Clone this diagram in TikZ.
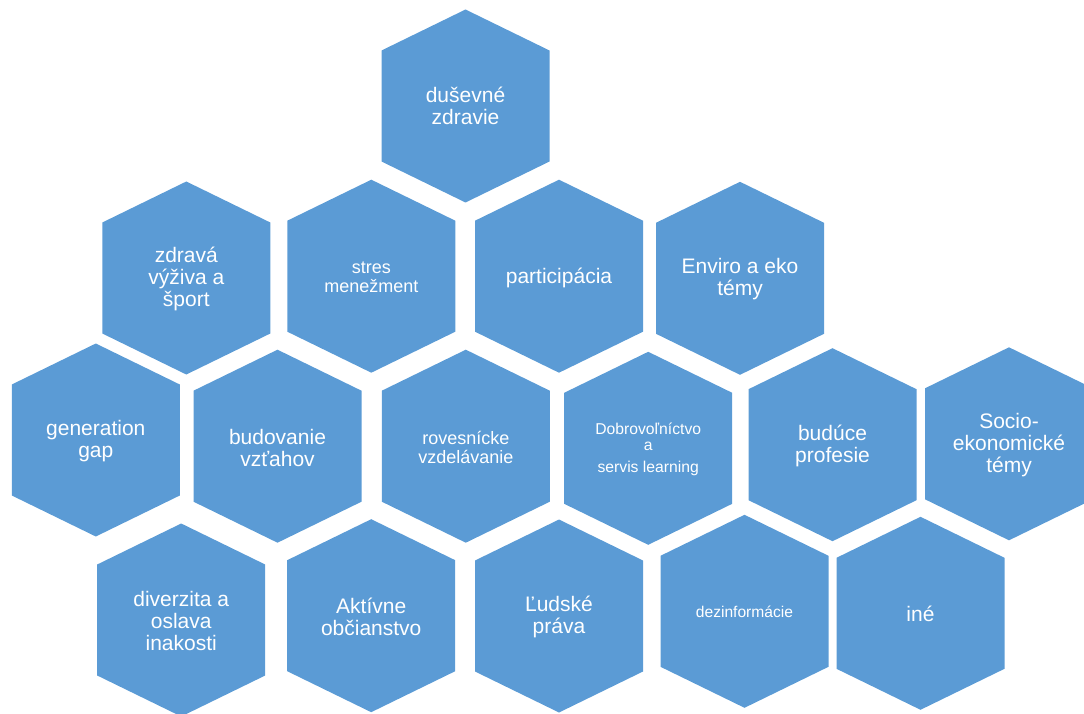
\documentclass[tikz,border=0pt]{standalone}
\usepackage{fontspec}
\setmainfont{Liberation Sans}
\usepackage{tikz}
\usetikzlibrary{positioning}
\definecolor{cellblue}{HTML}{5B9BD5}
\tikzset{
	hexcell/.pic={\fill[cellblue] (0,-96.5) -- (84,-55.5) -- (84,55.5) -- (0,96.5) -- (-84,55.5) -- (-84,-55.5) -- cycle;},
	lbl/.style={text=white, align=center, inner sep=0pt, font=\fontsize{21}{22}\selectfont},
	lblmid/.style={lbl, font=\fontsize{18}{19}\selectfont},
	lblsmall/.style={lbl, font=\fontsize{15.7}{16}\selectfont}
}

\begin{document}
\begin{tikzpicture}[x=1pt, y=-1pt]
			\path[use as bounding box, clip] (0,0) rectangle (1084,714);
			% top
			\pic at (465.5,106) {hexcell};
			\node[lbl] (dusevne) at (465.5,106) {duševné\\zdravie};
			% second row
			\pic at (186.3,278) {hexcell};
			\node[lbl] (zdrava) at (186.3,279) {zdravá\\výživa a\\šport};
			\pic at (371.3,276.2) {hexcell};
			\node[lblmid] (stres) at (371.3,277) {stres\\menežment};
			\pic at (559,276.2) {hexcell};
			\node[lbl] (participacia) at (559,278) {participácia};
			\pic at (740,278.3) {hexcell};
			\node[lbl] (enviro) at (740,279.5) {Enviro a eko\\témy};
			% third row
			\pic at (95.8,440) {hexcell};
			\node[lbl] (generation) at (95.8,441.5) {generation\\gap};
			\pic at (277.5,446.2) {hexcell};
			\node[lbl] (budovanie) at (277.5,447.5) {budovanie\\vzťahov};
			\pic at (465.8,446.2) {hexcell};
			\node[lblmid] (rovesnicke) at (465.8,447) {rovesnícke\\vzdelávanie};
			\pic at (648.2,448.3) {hexcell};
			\node[lblsmall] (dobrovolnictvo) at (648.2,449) {Dobrovoľníctvo\\a\\[6pt]servis learning};
			\pic at (832.5,444.7) {hexcell};
			\node[lbl] (buduce) at (832.5,446) {budúce\\profesie};
			\pic at (1009,443.8) {hexcell};
			\node[lbl] (socio) at (1009,445) {Socio-\\ekonomické\\témy};
			% bottom row
			\pic at (181.2,620) {hexcell};
			\node[lbl] (diverzita) at (181.2,621) {diverzita a\\oslava\\inakosti};
			\pic at (371.2,615.7) {hexcell};
			\node[lbl] (aktivne) at (371.2,617) {Aktívne\\občianstvo};
			\pic at (559,616) {hexcell};
			\node[lbl] (ludske) at (559,617) {Ľudské\\práva};
			\pic at (744.5,611.3) {hexcell};
			\node[lbl, font=\fontsize{15.6}{16}\selectfont] (dezinformacie) at (744.5,612) {dezinformácie};
			\pic at (920.5,613.3) {hexcell};
			\node[lbl] (ine) at (920.5,614) {iné};
		\end{tikzpicture}
\end{document}
